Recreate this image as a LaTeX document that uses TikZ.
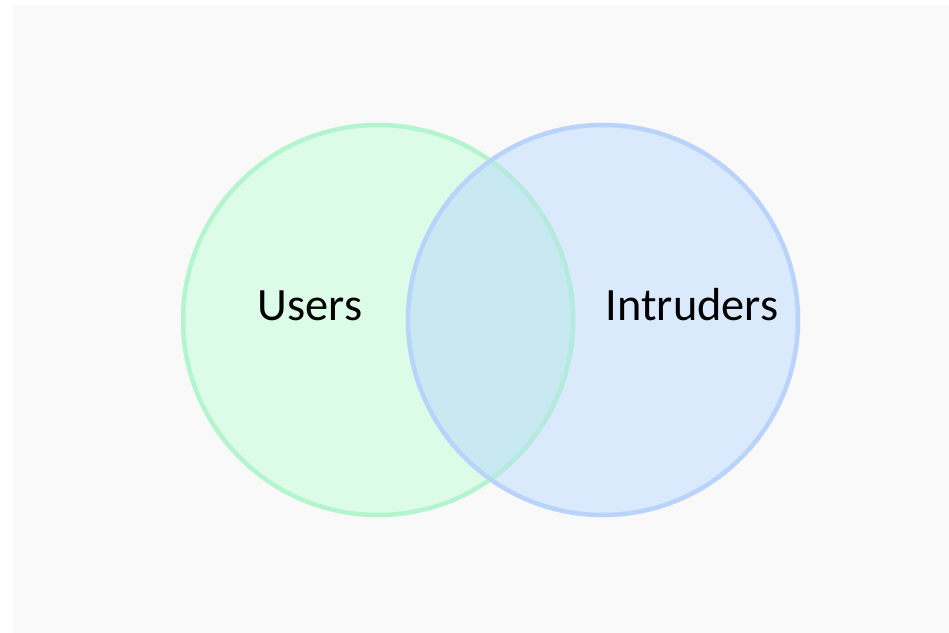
\documentclass[tikz,border=0pt]{standalone}
\usepackage{fontspec}
\setmainfont{Carlito}
\definecolor{bg}{HTML}{F9F9F9}
\definecolor{gfill}{HTML}{DCFCE8}
\definecolor{gline}{HTML}{B3F5CE}
\definecolor{bfill}{HTML}{DAE9FC}
\definecolor{bline}{HTML}{B8D4FB}
\definecolor{ofill}{HTML}{C8E9F2}
\definecolor{gline2}{HTML}{B5EBDF}
\tikzset{lbl/.style={font=\fontsize{46.5}{50}\selectfont, text=black, inner sep=0pt, anchor=base}}
\begin{document}
\begin{tikzpicture}[x=1bp,y=-1bp]
\useasboundingbox (0,0) rectangle (949,633);
\fill[white] (0,0) rectangle (949,633);
\fill[bg] (12.5,5) rectangle (949,633);
\coordinate (gc) at (378,320);
\coordinate (bc) at (603,320);
\fill[gfill] (gc) circle[radius=195];
\fill[bfill] (bc) circle[radius=195];
\begin{scope}
\clip (gc) circle[radius=195];
\fill[ofill] (bc) circle[radius=195];
\end{scope}
\draw[gline, line width=4.5bp] (gc) circle[radius=195];
\begin{scope}
\clip (bc) circle[radius=195];
\draw[gline2, line width=4.5bp] (gc) circle[radius=195];
\end{scope}
\draw[bline, line width=4.5bp] (bc) circle[radius=195];
\node[lbl] (users) at (310,320) {Users};
\node[lbl] (intruders) at (692,320) {Intruders};
\end{tikzpicture}
\end{document}
